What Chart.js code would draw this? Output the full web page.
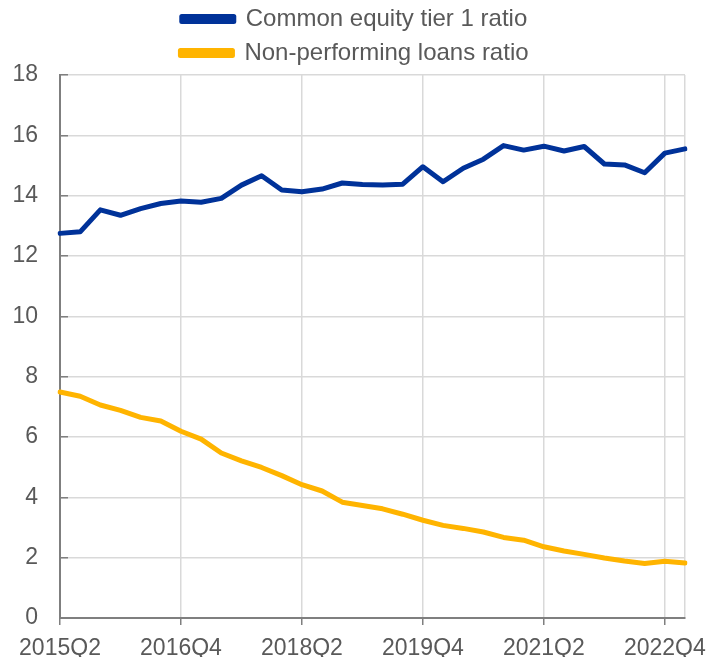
<!DOCTYPE html>
<html>
<head>
<meta charset="utf-8">
<script src="https://cdn.jsdelivr.net/npm/chart.js@4/dist/chart.umd.min.js"></script>
<style>
  html, body { margin: 0; padding: 0; background: #fff; }
  #wrap { width: 709px; height: 657px; position: relative; }
</style>
</head>
<body>
<div id="wrap"><canvas id="chart"></canvas></div>
<script>
"use strict";
// quarters 2015Q2 .. 2023Q1
var quarters = [];
for (var yr = 2015; yr <= 2023; yr++) {
    for (var q = 1; q <= 4; q++) {
        if (yr === 2015 && q < 2) continue;
        if (yr === 2023 && q > 1) continue;
        quarters.push(yr + "Q" + q);
    }
}

var cet1Ratio = [12.75, 12.8, 13.53, 13.35, 13.57, 13.74, 13.82, 13.78, 13.91, 14.35,
    14.66, 14.19, 14.13, 14.22, 14.42, 14.37, 14.35, 14.38, 14.96, 14.46,
    14.91, 15.21, 15.66, 15.51, 15.64, 15.48, 15.63, 15.05, 15.02, 14.76,
    15.41, 15.55];

var nplRatio = [7.49, 7.35, 7.06, 6.88, 6.65, 6.53, 6.19, 5.93, 5.47, 5.21,
    4.99, 4.72, 4.42, 4.21, 3.84, 3.73, 3.62, 3.44, 3.24, 3.07,
    2.97, 2.85, 2.67, 2.58, 2.36, 2.22, 2.11, 1.99, 1.89, 1.81,
    1.88, 1.82];

var yTicks = [0, 2, 4, 6, 8, 10, 12, 14, 16, 18];

var blue = "#003299",
    yellow = "#ffb400",
    gridCol = "#d9d9d9",
    axisCol = "#7f7f7f",
    textCol = "#595959";

Chart.defaults.font.family = "'Liberation Sans', Arial, sans-serif";
Chart.defaults.color = textCol;

new Chart(document.getElementById("chart"), {
    type: "line",
    data: {
        labels: quarters,
        datasets: [{
            label: "Common equity tier 1 ratio",
            data: cet1Ratio,
            borderColor: blue,
            backgroundColor: blue,
            borderWidth: 5
        }, {
            label: "Non-performing loans ratio",
            data: nplRatio,
            borderColor: yellow,
            backgroundColor: yellow,
            borderWidth: 5
        }]
    },
    options: {
        responsive: true,
        maintainAspectRatio: false,
        animation: false,
        layout: { padding: { left: 0, right: 0, top: -3, bottom: 0 } },
        elements: {
            point: { radius: 0 },
            line: { tension: 0, borderCapStyle: "round", borderJoinStyle: "round" }
        },
        plugins: {
            tooltip: { enabled: false },
            legend: {
                position: "top",
                labels: {
                    boxWidth: 52,
                    boxHeight: 5,
                    padding: 10,
                    color: textCol,
                    font: { size: 24 }
                }
            }
        },
        scales: {
            x: {
                afterFit: function(s) { s.height = 39; },
                ticks: {
                    autoSkip: false,
                    maxRotation: 0,
                    font: { size: 23 },
                    padding: 10,
                    callback: function(v, i) {
                        return i % 6 === 0 ? quarters[i] : "";
                    }
                },
                grid: {
                    color: function(c) {
                        return (c.index % 6 === 0 || c.index === quarters.length - 1) ? gridCol : "transparent";
                    },
                    tickColor: function(c) {
                        return c.index % 6 === 0 ? axisCol : "transparent";
                    },
                    tickLength: 7,
                    lineWidth: 1.5
                },
                border: { color: axisCol, width: 2 }
            },
            y: {
                min: 0,
                max: 18,
                afterBuildTicks: function(s) {
                    s.ticks = yTicks.map(function(v) { return { value: v }; });
                },
                // fixed width, and no extra label padding pushing the plot up
                afterFit: function(s) {
                    s.width = 60;
                    s.paddingTop = 0;
                    s.paddingBottom = 0;
                },
                ticks: { font: { size: 23 }, padding: 30 },
                grid: { color: gridCol, tickColor: axisCol, tickLength: -8, lineWidth: 1.5 },
                border: { color: axisCol, width: 2 }
            },
            // empty right-hand spacer so the plot ends where the original does
            yRight: {
                position: "right",
                min: 0,
                max: 18,
                afterFit: function(s) { s.width = 24; },
                ticks: { display: false },
                grid: { display: false },
                border: { display: false }
            }
        }
    }
});
</script>
</body>
</html>
